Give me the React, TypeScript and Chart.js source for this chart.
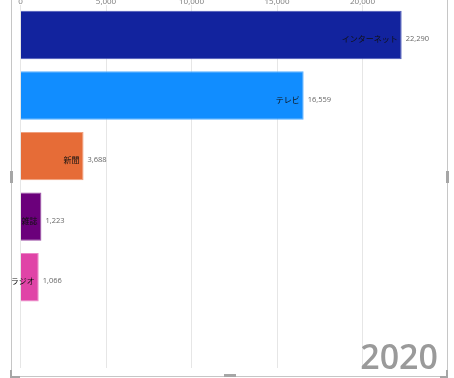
import React, { useEffect, useRef } from 'react';
import { Chart, registerables } from 'chart.js';

Chart.register(...registerables);

const categories = ['インターネット', 'テレビ', '新聞', '雑誌', 'ラジオ', ''];
const values: (number | null)[] = [22290, 16559, 3688, 1223, 1066, null];
const barColors = ['#12239E', '#118DFF', '#E66C37', '#6B007B', '#E044A7', '#ffffff'];
const barBorders = ['#4a57b8', '#5aafff', '#f0a07e', '#9a4fa5', '#ec86c6', '#ffffff'];
const axisMax = 25000;
const axisStep = 5000;
const yearLabel = '2020';

const labelPlugin = {
  id: 'barLabels',
  afterDatasetsDraw(chart: any) {
    const ctx = chart.ctx;
    const meta = chart.getDatasetMeta(0);
    const xs = chart.scales.x;
    ctx.save();
    // x-axis tick labels (from the scale's own ticks), placed at the very top
    ctx.font = '8px "Open Sans"';
    ctx.fillStyle = '#777777';
    ctx.textAlign = 'center';
    ctx.textBaseline = 'middle';
    xs.ticks.forEach((t: any) => {
      if (t.value >= axisMax) return;
      ctx.fillText(Number(t.value).toLocaleString('en-US'), xs.getPixelForValue(t.value), 2);
    });
    meta.data.forEach((bar: any, i: number) => {
      const v = values[i];
      if (v == null) return;
      ctx.textBaseline = 'middle';
      ctx.font = '8px "Noto Sans CJK JP"';
      ctx.fillStyle = '#111111';
      ctx.textAlign = 'right';
      ctx.fillText(categories[i], bar.x - 4, bar.y + 4);
      ctx.font = '7.5px "Open Sans"';
      ctx.fillStyle = '#666666';
      ctx.textAlign = 'left';
      ctx.fillText(v.toLocaleString('en-US'), bar.x + 4, bar.y + 4);
    });
    ctx.font = '600 34px "Open Sans"';
    ctx.fillStyle = '#9a9a9a';
    ctx.textAlign = 'right';
    ctx.textBaseline = 'alphabetic';
    ctx.fillText(yearLabel, 438, 369);
    ctx.restore();
  },
};

export default function App() {
  const ref = useRef<HTMLCanvasElement>(null);
  useEffect(() => {
    if (!ref.current) return;
    const chart = new Chart(ref.current, {
      type: 'bar',
      data: {
        labels: categories,
        datasets: [
          {
            data: values as any,
            backgroundColor: barColors,
            borderColor: barBorders,
            borderWidth: 1,
            barPercentage: 0.8,
            categoryPercentage: 1,
          },
        ],
      },
      options: {
        indexAxis: 'y',
        responsive: false,
        animation: false,
        layout: { padding: { left: 20.5, right: 6, top: 0, bottom: 10 } },
        plugins: { legend: { display: false }, tooltip: { enabled: false } },
        scales: {
          x: {
            position: 'top',
            min: 0,
            max: axisMax,
            afterFit: (s: any) => {
              s.height = 4.75;
            },
            ticks: {
              stepSize: axisStep,
              display: false,
            },
            grid: {
              drawTicks: false,
              color: (c: any) => (c.tick && c.tick.value >= axisMax ? 'rgba(0,0,0,0)' : '#e6e6e6'),
            },
            border: { display: false },
          },
          y: { display: false },
        },
      },
      plugins: [labelPlugin],
    });
    return () => chart.destroy();
  }, []);

  const line = '#c6c6c6';
  const handle = '#a6a6a6';
  return (
    <div style={{ position: 'fixed', left: 0, top: 0, width: 454, height: 378, background: '#fff', overflow: 'hidden' }}>
      <canvas ref={ref} width={454} height={378} style={{ position: 'absolute', left: 0, top: 0, width: 454, height: 378 }} />
      <div style={{ position: 'absolute', left: 11, top: 0, width: 1, height: 377, background: line }} />
      <div style={{ position: 'absolute', left: 447, top: 0, width: 1, height: 377, background: line }} />
      <div style={{ position: 'absolute', left: 11, top: 376, width: 437, height: 1, background: line }} />
      <div style={{ position: 'absolute', left: 10, top: 171, width: 3, height: 12, background: handle }} />
      <div style={{ position: 'absolute', left: 446, top: 171, width: 3, height: 12, background: handle }} />
      <div style={{ position: 'absolute', left: 224, top: 374, width: 12, height: 3, background: handle }} />
      <div style={{ position: 'absolute', left: 10, top: 370, width: 2, height: 8, background: handle }} />
      <div style={{ position: 'absolute', left: 10, top: 376, width: 10, height: 2, background: handle }} />
      <div style={{ position: 'absolute', left: 446, top: 370, width: 2, height: 8, background: handle }} />
      <div style={{ position: 'absolute', left: 440, top: 376, width: 8, height: 2, background: handle }} />
    </div>
  );
}
